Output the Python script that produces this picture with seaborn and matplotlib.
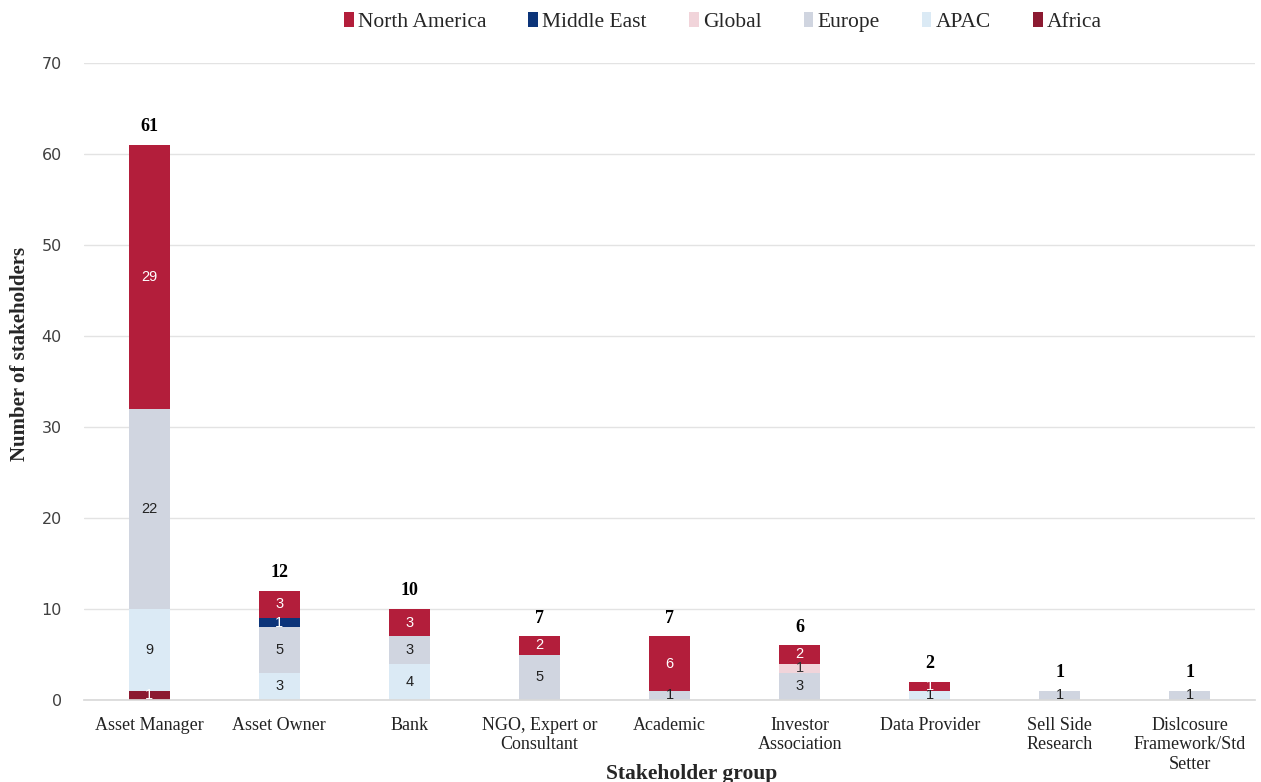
import matplotlib
matplotlib.use("Agg")
import matplotlib.pyplot as plt
import seaborn as sns
import pandas as pd
import numpy as np

categories = ["Asset Manager", "Asset Owner", "Bank", "NGO, Expert or\nConsultant",
              "Academic", "Investor\nAssociation", "Data Provider", "Sell Side\nResearch",
              "Dislcosure\nFramework/Std\nSetter"]
africa = [1, 0, 0, 0, 0, 0, 0, 0, 0]
apac = [9, 3, 4, 0, 0, 0, 1, 0, 0]
europe = [22, 5, 3, 5, 1, 3, 0, 1, 1]
global_ = [0, 0, 0, 0, 0, 1, 0, 0, 0]
middle_east = [0, 1, 0, 0, 0, 0, 0, 0, 0]
north_america = [29, 3, 3, 2, 6, 2, 1, 0, 0]

stack_order = ["Africa", "APAC", "Europe", "Global", "Middle East", "North America"]
series = {"Africa": africa, "APAC": apac, "Europe": europe, "Global": global_,
          "Middle East": middle_east, "North America": north_america}
colors = {"North America": "#B31E3B", "Middle East": "#0C3479", "Global": "#F1D4DA",
          "Europe": "#D0D5E0", "APAC": "#DBEAF5", "Africa": "#8C1A31"}
label_colors = {"North America": "white", "Middle East": "white", "Global": "#333333",
                "Europe": "#222222", "APAC": "#222222", "Africa": "white"}

sns.set_theme(style="white")
plt.rcParams["font.family"] = ["DejaVu Sans"]

fig = plt.figure(figsize=(12.61, 7.82), dpi=100)
ax = fig.add_axes([84/1261, 1-700/782, (1255-84)/1261, (700-63)/782])

bottom = np.zeros(len(categories))
for region in stack_order:
    vals = np.array(series[region], dtype=float)
    df = pd.DataFrame({"cat": categories, "val": vals})
    sns.barplot(data=df, x="cat", y="val", order=categories, color=colors[region],
                bottom=bottom, width=0.315, ax=ax, saturation=1, linewidth=0,
                label=region)
    for i, v in enumerate(vals):
        if v > 0:
            ax.text(i, bottom[i] + v/2, f"{int(v)}", ha="center", va="center",
                    fontsize=10.5, color=label_colors[region], family="Liberation Sans")
    bottom = bottom + vals

totals = bottom
for i, t in enumerate(totals):
    ax.text(i, t + 2.0, f"{int(t)}", ha="center", va="center", fontsize=13,
            fontweight="bold", family="Liberation Serif", color="black")

ax.set_ylim(0, 70)
ax.set_xlim(-0.5, len(categories) - 0.5)
ax.set_yticks(range(0, 71, 10))
ax.yaxis.grid(True, color="#E3E3E3", linewidth=1)
ax.set_axisbelow(True)
for s in ["top", "right", "left"]:
    ax.spines[s].set_visible(False)
ax.spines["bottom"].set_color("#D9D9D9")
ax.tick_params(axis="both", length=0)
ax.tick_params(axis="y", labelsize=11.5, labelcolor="#404040", pad=16)
ax.tick_params(axis="x", pad=12)
for lab in ax.get_xticklabels():
    lab.set_family("Liberation Serif")
    lab.set_fontsize(13)
    lab.set_color("#222222")
    lab.set_linespacing(1.2)
ax.set_xlabel("Stakeholder group", family="Liberation Serif", fontsize=15.5,
              fontweight="bold")
ax.xaxis.set_label_coords((692-84)/1171, -(764-700)/637)
ax.set_ylabel("Number of stakeholders", family="Liberation Serif", fontsize=15,
              fontweight="bold")
ax.yaxis.set_label_coords(-(84-30)/1171, (700-354)/637)

h, l = ax.get_legend_handles_labels()
hm = dict(zip(l, h))
leg_order = ["North America", "Middle East", "Global", "Europe", "APAC", "Africa"]
ax.legend([hm[k] for k in leg_order], leg_order, loc="center", ncol=6,
          bbox_to_anchor=((723-84)/1171, 1 + (63-22)/637), frameon=False,
          handlelength=0.45, handleheight=0.7, handletextpad=0.2, columnspacing=1.95,
          prop={"family": "Liberation Serif", "size": 15.5})

fig.savefig("out.png", dpi=100)
